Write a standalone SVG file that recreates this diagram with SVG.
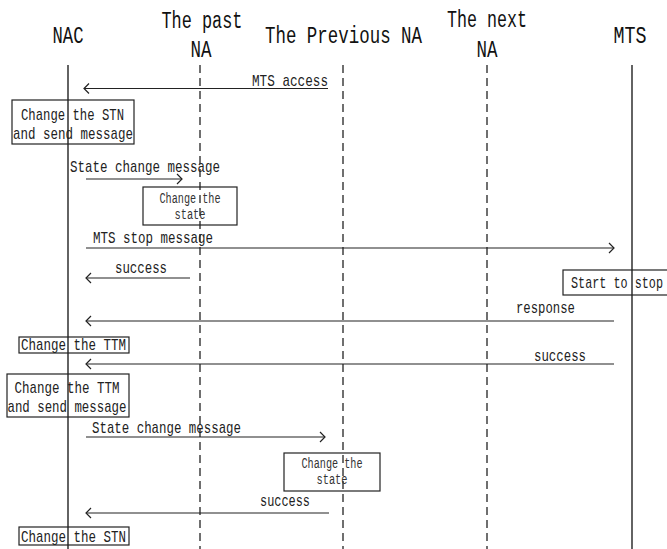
<svg xmlns="http://www.w3.org/2000/svg" width="667" height="549" viewBox="0 0 667 549">
  <style>
    .hdr { font-family: "Liberation Mono", "DejaVu Sans Mono", monospace; font-size: 23px; fill: #111; }
    .lbl { font-family: "Liberation Mono", "DejaVu Sans Mono", monospace; font-size: 17px; fill: #222; }
    .sm  { font-family: "Liberation Mono", "DejaVu Sans Mono", monospace; font-size: 14px; fill: #333; }
    .life { stroke: #222; stroke-width: 1.4; fill: none; }
    .dash { stroke: #333; stroke-width: 1.4; stroke-dasharray: 8 5; fill: none; }
    .msg { stroke: #222; stroke-width: 1.2; fill: none; marker-end: url(#open); }
    .box { fill: none; stroke: #222; stroke-width: 1.2; }
  </style>
  <defs>
    <marker id="open" viewBox="-7 -6 8 12" refX="0" refY="0" markerWidth="8" markerHeight="12" markerUnits="userSpaceOnUse" orient="auto">
      <path d="M-5,-5 L0,0 L-5,5" fill="none" stroke="#222" stroke-width="1.2"/>
    </marker>
  </defs>
  <rect width="667" height="549" fill="#fff"/>

  <!-- lifeline headers and lines -->
  <g id="nac">
    <text class="hdr" x="68" y="43" text-anchor="middle" textLength="31" lengthAdjust="spacingAndGlyphs">NAC</text>
    <line class="life" x1="68" y1="65" x2="68" y2="549"/>
  </g>
  <g id="past-na">
    <text class="hdr" x="202" y="28" text-anchor="middle" textLength="81" lengthAdjust="spacingAndGlyphs">The past</text>
    <text class="hdr" x="201" y="57" text-anchor="middle" textLength="21" lengthAdjust="spacingAndGlyphs">NA</text>
    <line class="dash" x1="200" y1="65" x2="200" y2="549"/>
  </g>
  <g id="previous-na">
    <text class="hdr" x="343.5" y="43" text-anchor="middle" textLength="157" lengthAdjust="spacingAndGlyphs">The Previous NA</text>
    <line class="dash" x1="343" y1="65" x2="343" y2="549"/>
  </g>
  <g id="next-na">
    <text class="hdr" x="487" y="27" text-anchor="middle" textLength="80" lengthAdjust="spacingAndGlyphs">The next</text>
    <text class="hdr" x="487" y="57" text-anchor="middle" textLength="21" lengthAdjust="spacingAndGlyphs">NA</text>
    <line class="dash" x1="487" y1="65" x2="487" y2="549"/>
  </g>
  <g id="mts">
    <text class="hdr" x="630" y="43" text-anchor="middle" textLength="33" lengthAdjust="spacingAndGlyphs">MTS</text>
    <line class="life" x1="632" y1="65" x2="632" y2="549"/>
  </g>

  <!-- activity boxes -->
  <g id="box-stn-send">
    <rect class="box" x="12" y="100" width="122" height="44"/>
    <text class="lbl" x="72.5" y="120" text-anchor="middle" textLength="103" lengthAdjust="spacingAndGlyphs">Change the STN</text>
    <text class="lbl" x="73" y="139" text-anchor="middle" textLength="120" lengthAdjust="spacingAndGlyphs">and send message</text>
  </g>
  <g id="box-state-1">
    <rect class="box" x="143" y="187" width="94" height="38"/>
    <text class="sm" x="190" y="203" text-anchor="middle" textLength="61" lengthAdjust="spacingAndGlyphs">Change the</text>
    <text class="sm" x="190" y="219" text-anchor="middle" textLength="31" lengthAdjust="spacingAndGlyphs">state</text>
  </g>
  <g id="box-start-stop">
    <rect class="box" x="563" y="270" width="110" height="25"/>
    <text class="lbl" x="571" y="288" textLength="92" lengthAdjust="spacingAndGlyphs">Start to stop</text>
  </g>
  <g id="box-ttm">
    <rect class="box" x="19" y="337" width="110" height="16"/>
    <text class="lbl" x="21" y="350" textLength="105" lengthAdjust="spacingAndGlyphs">Change the TTM</text>
  </g>
  <g id="box-ttm-send">
    <rect class="box" x="7" y="374" width="122" height="43"/>
    <text class="lbl" x="67" y="393" text-anchor="middle" textLength="105" lengthAdjust="spacingAndGlyphs">Change the TTM</text>
    <text class="lbl" x="67" y="412" text-anchor="middle" textLength="119" lengthAdjust="spacingAndGlyphs">and send message</text>
  </g>
  <g id="box-state-2">
    <rect class="box" x="284" y="453" width="96" height="38"/>
    <text class="sm" x="332" y="468" text-anchor="middle" textLength="61" lengthAdjust="spacingAndGlyphs">Change the</text>
    <text class="sm" x="332" y="484" text-anchor="middle" textLength="31" lengthAdjust="spacingAndGlyphs">state</text>
  </g>
  <g id="box-stn">
    <rect class="box" x="19" y="527" width="110" height="18"/>
    <text class="lbl" x="21" y="542" textLength="105" lengthAdjust="spacingAndGlyphs">Change the STN</text>
  </g>

  <!-- messages -->
  <g id="connectors">
    <line class="msg" x1="328" y1="88.5" x2="84" y2="88.5"/>
    <line class="msg" x1="86" y1="179" x2="182" y2="179"/>
    <line class="msg" x1="86" y1="248" x2="614" y2="248"/>
    <line class="msg" x1="190" y1="278" x2="86" y2="278"/>
    <line class="msg" x1="614" y1="321" x2="86" y2="321"/>
    <line class="msg" x1="614" y1="364" x2="86" y2="364"/>
    <line class="msg" x1="86" y1="437" x2="325" y2="437"/>
    <line class="msg" x1="329" y1="513" x2="86" y2="513"/>
  </g>
  <g id="message-labels">
    <text class="lbl" x="252" y="86" textLength="76" lengthAdjust="spacingAndGlyphs">MTS access</text>
    <text class="lbl" x="70" y="172" textLength="150" lengthAdjust="spacingAndGlyphs">State change message</text>
    <text class="lbl" x="93" y="243" textLength="120" lengthAdjust="spacingAndGlyphs">MTS stop message</text>
    <text class="lbl" x="115" y="273" textLength="52" lengthAdjust="spacingAndGlyphs">success</text>
    <text class="lbl" x="516" y="313" textLength="59" lengthAdjust="spacingAndGlyphs">response</text>
    <text class="lbl" x="534" y="361" textLength="52" lengthAdjust="spacingAndGlyphs">success</text>
    <text class="lbl" x="92" y="433" textLength="149" lengthAdjust="spacingAndGlyphs">State change message</text>
    <text class="lbl" x="260" y="506" textLength="50" lengthAdjust="spacingAndGlyphs">success</text>
  </g>
</svg>
